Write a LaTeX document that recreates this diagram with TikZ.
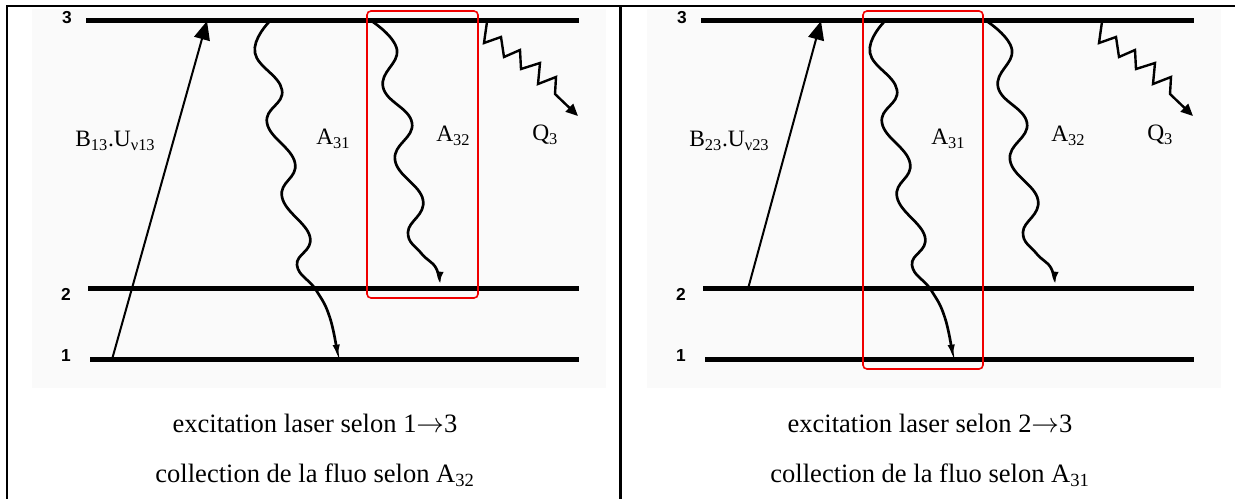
\documentclass[tikz,border=0pt]{standalone}
\usepackage{fontspec}
\setmainfont{Liberation Serif}
\newfontfamily\lvlfont{Liberation Sans}
\usetikzlibrary{arrows.meta}
\definecolor{bggray}{RGB}{250,250,250}
\definecolor{boxred}{RGB}{240,0,0}
\begin{document}
\begin{tikzpicture}[x=0.75pt,y=-0.75pt,
  enlevel/.style={line width=3.75pt},
  tableline/.style={line width=1.7pt},
  lvllabel/.style={font=\lvlfont\bfseries\fontsize{13}{15}\selectfont, inner sep=0pt},
  lbl/.style={font=\fontsize{17.6}{20}\selectfont, inner sep=0pt, anchor=base west},
  captxt/.style={font=\fontsize{19.9}{24}\selectfont, inner sep=0pt, anchor=base},
  pump/.style={line width=1.5pt, -{Triangle[length=14pt,width=12pt]}},
  fluo/.style={line width=2pt, -{Latex[length=10pt,width=5.5pt]}},
  quench/.style={line width=1.8pt, line join=miter, -{Triangle[length=9pt,width=8pt]}},
  selbox/.style={draw=boxred, line width=1.2pt, rounded corners=3pt}
]
\useasboundingbox (0,0) rectangle (1235,499);

\foreach \p/\dx in {L/0,R/615}{
\begin{scope}[shift={(\dx,0)}]
  \fill[bggray] (32,9) rectangle (606,388);
  % levels
  \coordinate (\p-l3a) at (86,20.5);  \coordinate (\p-l3b) at (579,20.5);
  \coordinate (\p-l2a) at (88,288.8); \coordinate (\p-l2b) at (579,288.8);
  \coordinate (\p-l1a) at (90,359.5); \coordinate (\p-l1b) at (579,359.5);
  \draw[enlevel] (\p-l3a) -- (\p-l3b);
  \draw[enlevel] (\p-l2a) -- (\p-l2b);
  \draw[enlevel] (\p-l1a) -- (\p-l1b);
  \node[lvllabel] (\p-n3) at (67,18) {3};
  \node[lvllabel] (\p-n2) at (66,294) {2};
  \node[lvllabel] (\p-n1) at (66,356) {1};
  % A31 fluorescence
  \coordinate (\p-a31s) at (269,22); \coordinate (\p-a31e) at (338,358);
  \draw[fluo] plot[smooth, tension=0.75] coordinates {(\p-a31s) (255,53) (282,90) (267,123) (295,163) (282,197) (310,237) (297,265) (316,290) (330,318) (\p-a31e)};
  % A32 fluorescence
  \coordinate (\p-a32s) at (373,22); \coordinate (\p-a32e) at (439,285);
  \draw[fluo] plot[smooth, tension=0.75] coordinates {(\p-a32s) (397,50) (383,87) (412,123) (395,160) (423,200) (408,232) (421,253) (436,268) (\p-a32e)};
  % Q3 quenching
  \coordinate (\p-q3s) at (487,21.7); \coordinate (\p-q3e) at (578,116);
  \draw[quench] (\p-q3s) -- (484,43) -- (501,37) -- (504,57) -- (520,50) -- (521,69) -- (540,63) -- (538,84) -- (556,77) -- (555,94) -- (\p-q3e);
  % labels
  \node[lbl] (\p-a31l) at (316,145) {A\textsubscript{31}};
  \node[lbl] (\p-a32l) at (436,142) {A\textsubscript{32}};
  \node[lbl] (\p-q3l) at (532,141) {Q\textsubscript{3}};
\end{scope}
}

% table borders
\coordinate (tl) at (7,6); \coordinate (tr) at (1235,6); \coordinate (bl) at (7,499);
\coordinate (mt) at (620.5,6); \coordinate (mb) at (620.5,499);
\draw[tableline] (bl) -- (tl) -- (tr);
\draw[tableline] (mt) -- (mb);

% left panel: excitation 1 -> 3, collection A32
\coordinate (L-bs) at (112,359.5); \coordinate (L-bt) at (207,21);
\draw[pump] (L-bs) -- (L-bt);
\node[lbl] (L-bl) at (75,147) {B\textsubscript{13}.U\textsubscript{ν13}};
\draw[selbox] (367,11) rectangle (478,298);
\node[captxt] (L-c1) at (315,432) {excitation laser selon 1$\rightarrow$3};
\node[captxt] (L-c2) at (315,482) {collection de la fluo selon A\textsubscript{32}};

% right panel: excitation 2 -> 3, collection A31
\coordinate (R-bs) at (748,288.8); \coordinate (R-bt) at (821,21);
\draw[pump] (R-bs) -- (R-bt);
\node[lbl] (R-bl) at (689,147) {B\textsubscript{23}.U\textsubscript{ν23}};
\draw[selbox] (863,11) rectangle (983,369);
\node[captxt] (R-c1) at (930,432) {excitation laser selon 2$\rightarrow$3};
\node[captxt] (R-c2) at (930,482) {collection de la fluo selon A\textsubscript{31}};
\end{tikzpicture}
\end{document}
